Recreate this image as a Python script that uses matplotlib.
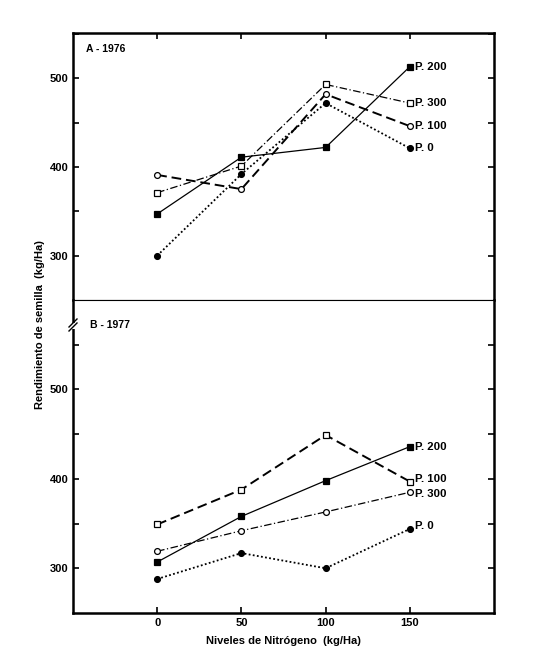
import matplotlib
matplotlib.use('Agg')
import matplotlib.pyplot as plt
from matplotlib.lines import Line2D
from matplotlib.patches import Rectangle

plt.rcParams['font.family'] = ['Liberation Sans', 'DejaVu Sans']
plt.rcParams['font.weight'] = 'bold'

# Niveles de nitrogeno (kg/Ha)
nitrogen = [0, 50, 100, 150]

# A - 1976
a_p200 = [347, 411, 422, 513]
a_p300 = [371, 401, 493, 472]
a_p100 = [391, 375, 482, 446]
a_p0 = [300, 392, 472, 421]

# B - 1977
b_p100 = [349, 388, 449, 397]
b_p200 = [307, 358, 398, 436]
b_p300 = [319, 342, 363, 385]
b_p0 = [288, 317, 300, 344]

xticks = [0, 50, 100, 150]
yticks_major = [300, 400, 500]

W, H = 560, 665
fig = plt.figure(figsize=(5.6, 6.65), dpi=100)
axA = fig.add_axes([73 / W, 1 - 300 / H, 421 / W, 267 / H])
axB = fig.add_axes([73 / W, 1 - 613 / H, 421 / W, 313 / H])

solid = dict(ls='-', lw=0.9)
dashed = dict(ls=(0, (5, 2.5)), lw=1.4)
dashdot = dict(ls=(0, (6, 2, 1, 2)), lw=0.9)
dotted = dict(ls=(0, (1, 1.3)), lw=1.3)


def series(ax, y, marker, filled, style, label, dy=0):
    ax.plot(nitrogen, y, color='black', marker=marker, markersize=4.2,
            markerfacecolor='black' if filled else 'white',
            markeredgecolor='black', markeredgewidth=0.9, **style)
    ax.annotate(label, (nitrogen[-1], y[-1]), xytext=(3.5, dy),
                textcoords='offset points', va='center', ha='left',
                fontsize=8.2, fontweight='bold')


series(axA, a_p200, 's', True, solid, 'P. 200')
series(axA, a_p300, 's', False, dashdot, 'P. 300')
series(axA, a_p100, 'o', False, dashed, 'P. 100')
series(axA, a_p0, 'o', True, dotted, 'P. 0')

series(axB, b_p100, 's', False, dashed, 'P. 100', dy=2)
series(axB, b_p200, 's', True, solid, 'P. 200')
series(axB, b_p300, 'o', False, dashdot, 'P. 300', dy=-1)
series(axB, b_p0, 'o', True, dotted, 'P. 0', dy=2)

axA.set_ylim(250, 551)
axB.set_ylim(250, 600)
for ax in (axA, axB):
    ax.set_xlim(-50, 200)
    ax.set_xticks(xticks)
    ax.set_yticks(range(300, 600, 50))
    ax.set_yticklabels([str(v) if v in yticks_major else '' for v in range(300, 600, 50)])
    ax.tick_params(direction='in', length=4, width=1.2, labelsize=8,
                   left=True, right=True)
    for s in ax.spines.values():
        s.set_linewidth(1.8)

axA.tick_params(top=True, bottom=False, labelbottom=False)
axA.spines['bottom'].set_linewidth(0.8)
axB.tick_params(top=False, bottom=True, labelbottom=True)
axB.spines['top'].set_linewidth(0.8)

axA.text(0.03, 0.94, 'A - 1976', transform=axA.transAxes, fontsize=7.5,
         fontweight='bold', va='center')
axB.text(0.04, 0.92, 'B - 1977', transform=axB.transAxes, fontsize=7.5,
         fontweight='bold', va='center')

# axis break on the left edge
fig.add_artist(Rectangle((70 / W, 1 - 329 / H), 6 / W, 6 / H, transform=fig.transFigure,
                         facecolor='white', edgecolor='none', zorder=5))
for off in (0, 4):
    fig.add_artist(Line2D([69 / W, 77 / W], [1 - (331 - off) / H, 1 - (323 - off) / H],
                          transform=fig.transFigure, color='black', lw=1.0, zorder=6))

fig.text(40 / W, 1 - 325 / H, 'Rendimiento de semilla  (kg/Ha)',
         rotation=90, ha='center', va='center', fontsize=8, fontweight='bold')
axB.set_xlabel('Niveles de Nitrógeno  (kg/Ha)', fontsize=8,
               fontweight='bold', labelpad=6)

fig.savefig('out.png', dpi=100)
